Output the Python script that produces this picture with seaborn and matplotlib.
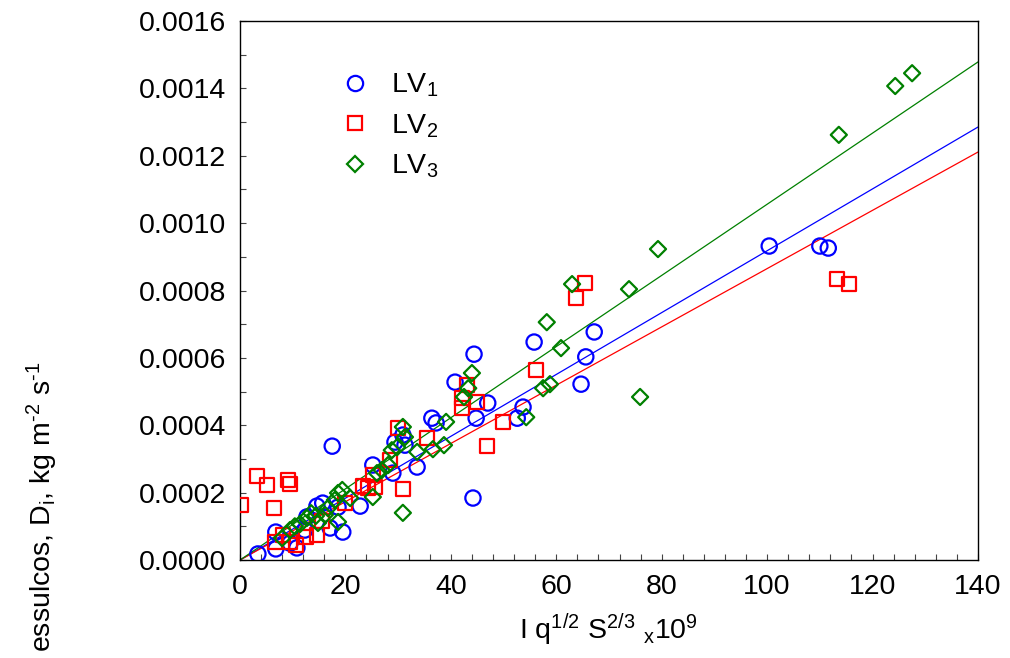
import matplotlib
matplotlib.use("Agg")
import matplotlib.pyplot as plt
import numpy as np
import pandas as pd
import seaborn as sns
from matplotlib.lines import Line2D
from matplotlib.ticker import MultipleLocator, FormatStrFormatter

# LV1 (circles)
lv1_x = [3.4, 6.8, 6.8, 9.5, 10.8, 12.7, 12.3, 14.6, 15.7, 17.1, 18.6, 19.5, 17.5,
         22.8, 25.2, 29.0, 29.4, 30.9, 31.3, 33.6, 36.4, 37.2, 40.8, 44.4, 44.2,
         44.8, 47.0, 52.6, 53.7, 55.8, 64.7, 65.6, 67.2, 100.4, 110.0, 111.6]
lv1_y = [1.8e-5, 3.3e-5, 8.3e-5, 5.0e-5, 3.6e-5, 1.28e-4, 8.9e-5, 1.6e-4, 1.69e-4,
         9.5e-5, 1.57e-4, 8.3e-5, 3.38e-4, 1.6e-4, 2.82e-4, 2.58e-4, 3.5e-4, 3.71e-4,
         3.41e-4, 2.76e-4, 4.21e-4, 4.07e-4, 5.28e-4, 6.11e-4, 1.84e-4, 4.21e-4,
         4.66e-4, 4.21e-4, 4.54e-4, 6.47e-4, 5.22e-4, 6.03e-4, 6.77e-4, 9.32e-4,
         9.32e-4, 9.26e-4]

# LV2 (squares)
lv2_x = [0.2, 3.2, 5.1, 6.5, 9.1, 9.5, 6.6, 8.2, 9.5, 10.6, 12.5, 14.6, 15.6, 19.9,
         23.3, 24.3, 25.6, 25.2, 28.5, 30.0, 30.9, 35.5, 42.1, 42.1, 43.1, 45.0,
         46.9, 49.9, 56.2, 63.7, 65.5, 113.3, 115.5]
lv2_y = [1.63e-4, 2.49e-4, 2.23e-4, 1.54e-4, 2.37e-4, 2.26e-4, 5.3e-5, 7.4e-5, 5.3e-5,
         4.5e-5, 6.8e-5, 7.4e-5, 1.16e-4, 1.69e-4, 2.2e-4, 2.14e-4, 2.17e-4, 2.52e-4,
         2.97e-4, 3.92e-4, 2.11e-4, 3.62e-4, 4.81e-4, 4.51e-4, 5.19e-4, 4.69e-4,
         3.38e-4, 4.1e-4, 5.64e-4, 7.78e-4, 8.22e-4, 8.34e-4, 8.19e-4]

# LV3 (diamonds)
lv3_x = [8.0, 9.5, 10.4, 11.4, 12.7, 13.5, 14.4, 14.8, 16.1, 16.7, 18.0, 18.6, 19.4,
         20.9, 18.6, 25.2, 26.0, 26.9, 28.1, 28.8, 29.8, 30.9, 31.3, 33.6, 30.9,
         36.6, 38.7, 39.1, 42.5, 43.3, 44.0, 54.3, 57.5, 58.8, 58.2, 60.9, 63.0,
         73.8, 75.9, 79.3, 113.6, 124.3, 127.5]
lv3_y = [6.5e-5, 8.9e-5, 1.0e-4, 1.07e-4, 1.25e-4, 1.39e-4, 1.31e-4, 1.1e-4, 1.34e-4,
         1.54e-4, 1.78e-4, 1.99e-4, 2.08e-4, 1.84e-4, 1.13e-4, 1.87e-4, 2.58e-4,
         2.67e-4, 2.82e-4, 3.26e-4, 3.35e-4, 3.95e-4, 3.65e-4, 3.21e-4, 1.4e-4,
         3.29e-4, 3.41e-4, 4.1e-4, 4.84e-4, 5.1e-4, 5.55e-4, 4.24e-4, 5.1e-4,
         5.22e-4, 7.06e-4, 6.29e-4, 8.19e-4, 8.04e-4, 4.84e-4, 9.23e-4, 1.262e-3,
         1.407e-3, 1.445e-3]

# regression lines through the origin (slope per unit of x)
fit_slopes = [9.18e-6, 8.65e-6, 1.056e-5]
fit_range = [0, 140]

labels = ['LV$\\mathregular{_1}$', 'LV$\\mathregular{_2}$', 'LV$\\mathregular{_3}$']
colors = ['#0000FF', '#FF0000', '#008000']
markers = ['o', 's', 'D']
msizes = [11, 10, 8.2]

sns.set_theme(style='ticks')
plt.rcParams['font.family'] = ['Liberation Sans', 'DejaVu Sans']
plt.rcParams['mathtext.fontset'] = 'custom'
plt.rcParams['mathtext.rm'] = 'Liberation Sans'
plt.rcParams['text.color'] = 'black'
plt.rcParams['axes.labelcolor'] = 'black'
plt.rcParams['xtick.color'] = 'black'
plt.rcParams['ytick.color'] = 'black'

fig = plt.figure(figsize=(10.1, 6.58), dpi=100)
ax = fig.add_axes([0.2376, 0.1489, 0.7307, 0.8192])

series = [(lv1_x, lv1_y), (lv2_x, lv2_y), (lv3_x, lv3_y)]
for (xs, ys), col, mk, ms in zip(series, colors, markers, msizes):
    df = pd.DataFrame({'x': xs, 'y': ys})
    sns.scatterplot(data=df, x='x', y='y', marker=mk, s=ms ** 2, color=col,
                    linewidth=1.6, ax=ax, legend=False, zorder=3)
    coll = ax.collections[-1]
    coll.set_facecolor('none')
    coll.set_edgecolor(col)

xfit = np.array(fit_range, dtype=float)
for slope, col in zip(fit_slopes, colors):
    sns.lineplot(x=xfit, y=slope * xfit, color=col, linewidth=0.9, ax=ax, zorder=2)

ax.set_xlim(0, 140)
ax.set_ylim(0, 0.0016)
ax.xaxis.set_major_locator(MultipleLocator(20))
ax.xaxis.set_minor_locator(MultipleLocator(4))
ax.yaxis.set_major_locator(MultipleLocator(0.0002))
ax.yaxis.set_minor_locator(MultipleLocator(0.0001))
ax.yaxis.set_major_formatter(FormatStrFormatter('%.4f'))
ax.tick_params(which='both', direction='in', top=False, right=False,
               labelsize=20.5, width=0.8, color='#444444', labelcolor='black')
ax.tick_params(which='major', length=4, pad=10)
ax.tick_params(which='minor', length=4)
for sp in ax.spines.values():
    sp.set_visible(True)
    sp.set_color('black')
    sp.set_linewidth(1.0)

ax.set_xlabel('I q$\\mathregular{^{1/2}}$ S$\\mathregular{^{2/3}}$ $\\mathregular{_{x}}$10$\\mathregular{^9}$',
              fontsize=20.5, labelpad=8)
ax.set_ylabel('')
# the reference figure cuts the start of this label at the bottom edge
fig.text(0.042, 1 - 362 / 658,
         'essulcos, D$\\mathregular{_i}$, kg m$\\mathregular{^{\\text{-2}}}$ s$\\mathregular{^{\\text{-1}}}$',
         rotation=90, ha='center', va='top', fontsize=20.5)

handles = [Line2D([], [], linestyle='none', marker=mk, markersize=ms,
                  markerfacecolor='none', markeredgecolor=col, markeredgewidth=1.6)
           for col, mk, ms in zip(colors, markers, msizes)]
ax.legend(handles, labels, loc='upper left', bbox_to_anchor=(0.137, 0.906),
          frameon=False, fontsize=20.5, handlelength=1.0, handletextpad=0.75,
          labelspacing=0.46, borderpad=0, borderaxespad=0)

fig.savefig('out.png', dpi=100)
